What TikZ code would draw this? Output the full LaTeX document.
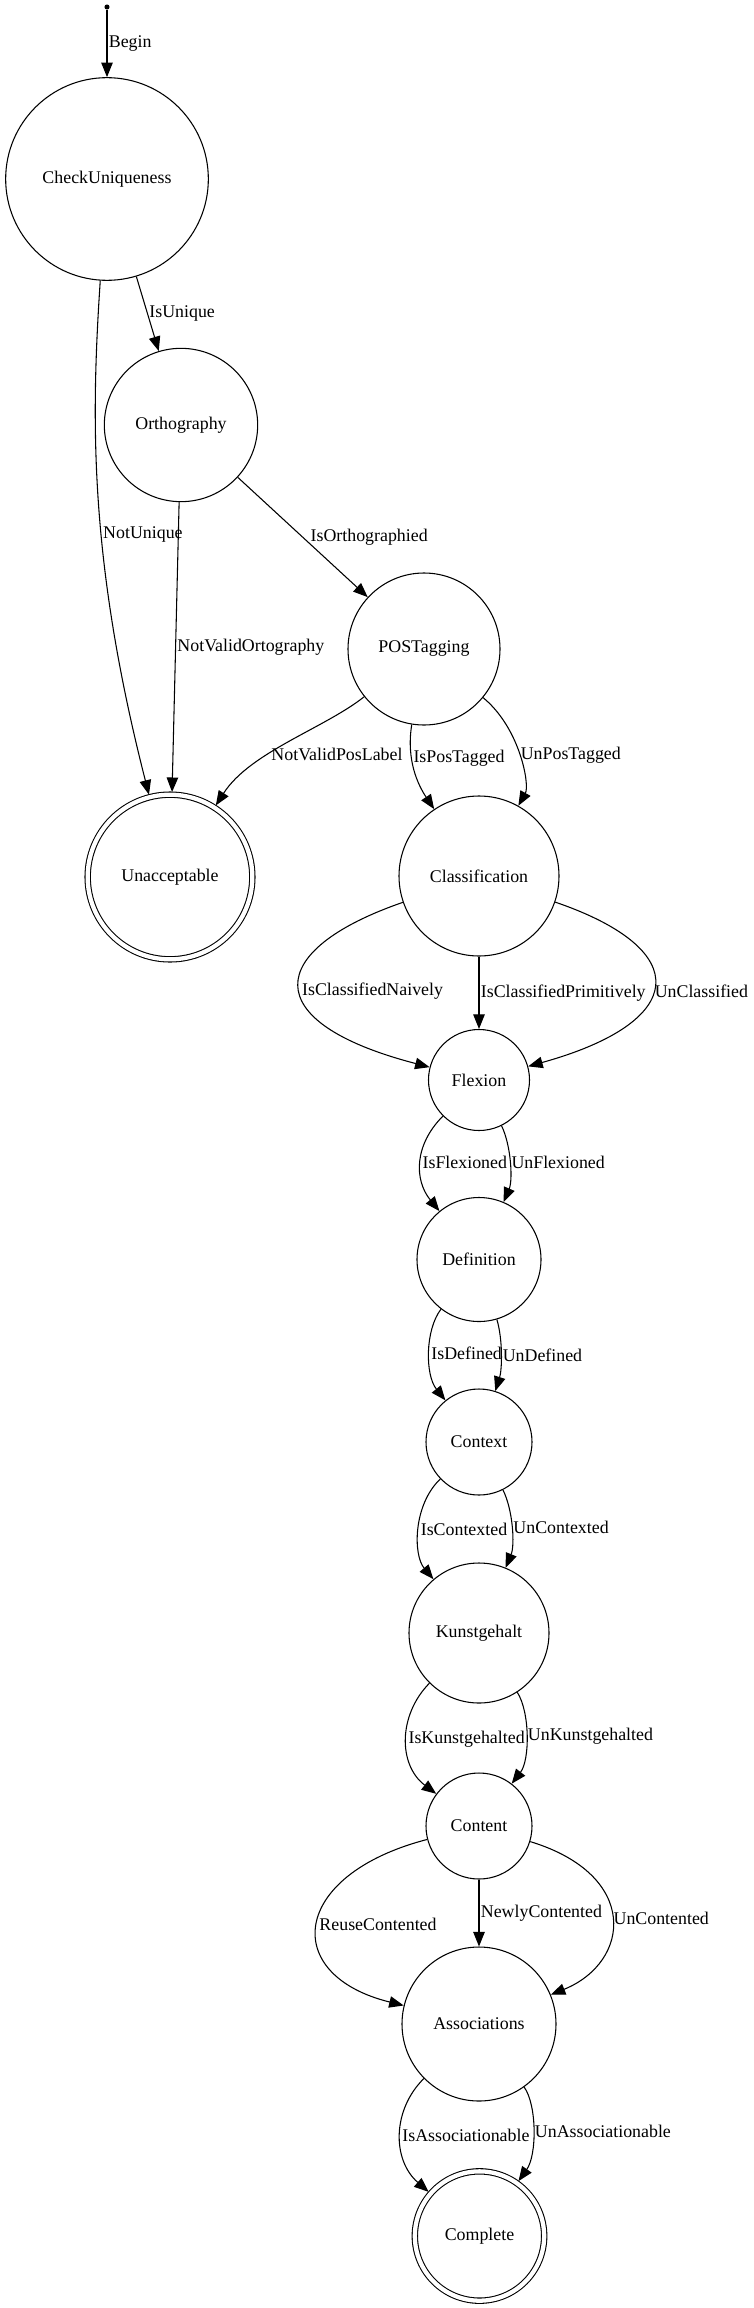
\documentclass[tikz,border=0pt]{standalone}
\usepackage{fontspec}
\setmainfont{Liberation Serif}
\usetikzlibrary{arrows.meta}

\begin{document}
\begin{tikzpicture}[x=0.75pt,y=-0.75pt,
    every node/.style={font=\fontsize{13.4pt}{16pt}\selectfont},
    state/.style={circle,draw,line width=0.8pt,inner sep=0pt},
    final/.style={state,double,double distance=3.2pt,outer sep=2pt},
    dot/.style={circle,fill,inner sep=0pt,minimum size=3.8pt},
    trans/.style={line width=0.8pt,-{Triangle[length=10.9pt,width=8.6pt]}},
    lbl/.style={anchor=west,inner sep=1pt}]
    \useasboundingbox (0,0) rectangle (753,2308);

    % Start
    \node[dot] (start) at (107,7) {};
    % States
    \node[state,minimum size=152pt] (chk) at (107,179) {CheckUniqueness};
    \node[state,minimum size=115pt] (orth) at (181,425) {Orthography};
    \node[state,minimum size=114pt] (postag) at (424,649) {POSTagging};
    \node[final,minimum size=123.5pt] (unacc) at (170,877) {Unacceptable};
    \node[state,minimum size=120pt] (classif) at (479,876) {Classification};
    \node[state,minimum size=75.75pt] (flex) at (479,1080) {Flexion};
    \node[state,minimum size=93pt] (defn) at (479,1259.5) {Definition};
    \node[state,minimum size=79.5pt] (ctx) at (479,1442) {Context};
    \node[state,minimum size=105pt] (kunst) at (479,1633) {Kunstgehalt};
    \node[state,minimum size=79.5pt] (content) at (479,1826) {Content};
    \node[state,minimum size=115.5pt] (assoc) at (479,2024) {Associations};
    \node[final,minimum size=97pt] (complete) at (479.5,2236) {Complete};

    % Transitions
    \draw[trans] (start) -- node[lbl]{Begin} (chk);
    \draw[trans] (chk) -- node[lbl]{IsUnique} (orth);
    \draw[trans] (chk) .. controls (91,420) and (89,560) .. node[lbl,pos=0.565]{NotUnique} (unacc);
    \draw[trans] (orth) -- node[lbl]{NotValidOrtography} (unacc);
    \draw[trans] (orth) -- node[lbl,xshift=4.5pt]{IsOrthographied} (postag);
    \draw[trans] (postag) .. controls (325,728) and (250,752) .. node[lbl,anchor=center,pos=0.2,yshift=-30pt]{NotValidPosLabel} (unacc);
    \draw[trans] (postag) .. controls (406,760) and (418,785) .. node[lbl,pos=0.35]{IsPosTagged} (classif);
    \draw[trans] (postag) .. controls (520,728) and (530,785) .. node[lbl]{UnPosTagged} (classif);
    \draw[trans] (classif) .. controls (265,950) and (256,1022) .. node[lbl,pos=0.53]{IsClassifiedNaively} (flex);
    \draw[trans] (classif) -- node[lbl]{IsClassifiedPrimitively} (flex);
    \draw[trans] (classif) .. controls (695,950) and (688,1022) .. node[lbl,pos=0.53]{UnClassified} (flex);
    \draw[trans] (flex) .. controls (414,1145) and (414,1180) .. node[lbl]{IsFlexioned} (defn);
    \draw[trans] (flex) .. controls (511,1145) and (513,1180) .. node[lbl]{UnFlexioned} (defn);
    \draw[trans] (defn) .. controls (425,1330) and (425,1375) .. node[lbl]{IsDefined} (ctx);
    \draw[trans] (defn) .. controls (503,1340) and (502,1370) .. node[lbl]{UnDefined} (ctx);
    \draw[trans] (ctx) .. controls (413,1505) and (413,1555) .. node[lbl]{IsContexted} (kunst);
    \draw[trans] (ctx) .. controls (513,1510) and (515,1545) .. node[lbl]{UnContexted} (kunst);
    \draw[trans] (kunst) .. controls (398,1715) and (398,1765) .. node[lbl]{IsKunstgehalted} (content);
    \draw[trans] (kunst) .. controls (530,1712) and (530,1760) .. node[lbl]{UnKunstgehalted} (content);
    \draw[trans] (content) .. controls (290,1875) and (280,1975) .. node[lbl]{ReuseContented} (assoc);
    \draw[trans] (content) -- node[lbl]{NewlyContented} (assoc);
    \draw[trans] (content) .. controls (640,1875) and (631,1962) .. node[lbl]{UnContented} (assoc);
    \draw[trans] (assoc) .. controls (392,2110) and (392,2160) .. node[lbl]{IsAssociationable} (complete);
    \draw[trans] (assoc) .. controls (537,2105) and (537,2155) .. node[lbl]{UnAssociationable} (complete);
\end{tikzpicture}
\end{document}
